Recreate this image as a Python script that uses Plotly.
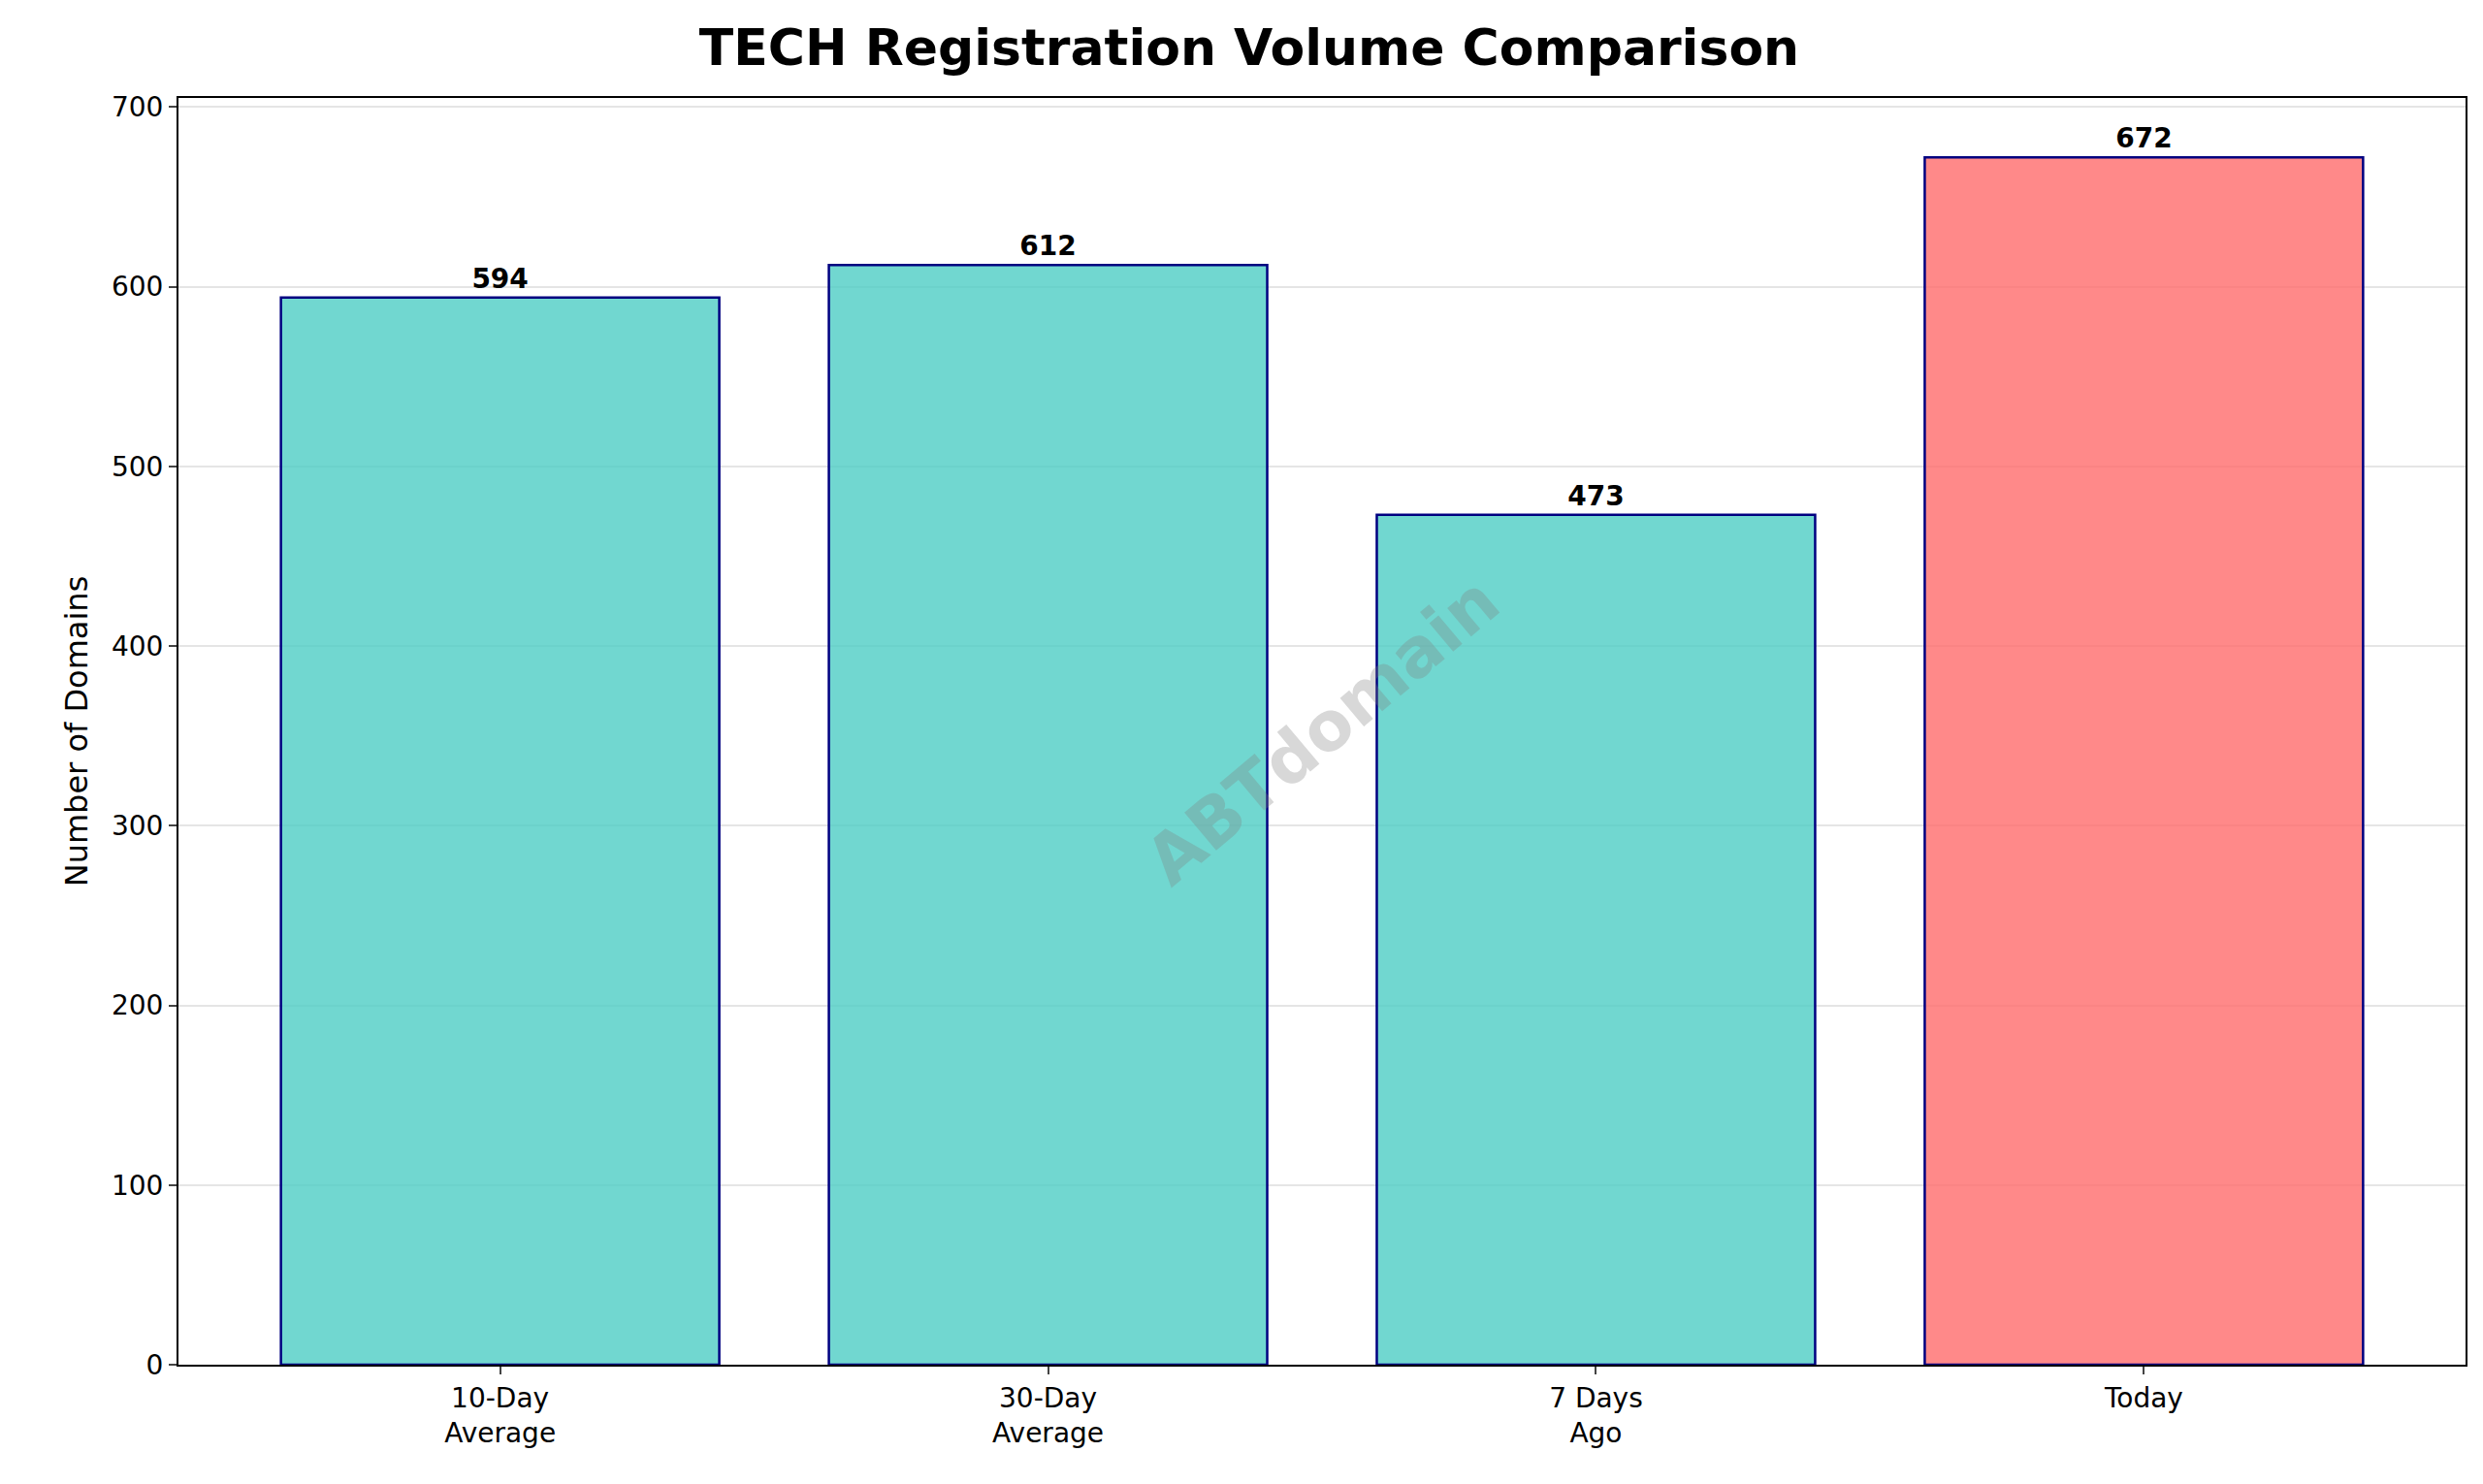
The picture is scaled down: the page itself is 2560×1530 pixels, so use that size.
import plotly.graph_objects as go

categories = ['10-Day<br>Average', '30-Day<br>Average', '7 Days<br>Ago', 'Today']
values = [594, 612, 473, 672]
bar_colors = ['rgba(78,205,196,0.8)'] * 3 + ['rgba(255,107,107,0.8)']

x_pos = list(range(len(categories)))

fig = go.Figure(go.Bar(
    x=x_pos, y=values, width=0.8,
    marker=dict(color=bar_colors, line=dict(color='navy', width=2.5)),
    text=[f'<b>{v}</b>' for v in values], textposition='outside',
    textfont=dict(size=28, color='black', family='DejaVu Sans'),
    cliponaxis=False,
))

fig.add_annotation(
    text='<b>ABTdomain</b>', x=0.5, y=0.5, xref='paper', yref='paper',
    showarrow=False, textangle=-40, opacity=0.3,
    font=dict(size=70, color='gray', family='DejaVu Sans'),
)

fig.update_layout(
    width=2560, height=1530,
    paper_bgcolor='white', plot_bgcolor='white',
    font=dict(family='DejaVu Sans', size=28, color='black'),
    title=dict(text='<b>TECH Registration Volume Comparison</b>', x=0.5, xanchor='center',
               y=0.985, yanchor='top', font=dict(size=52)),
    margin=dict(l=176, r=26, t=93, b=131),
    showlegend=False,
    bargap=0.2,
)
fig.update_xaxes(
    tickvals=x_pos, ticktext=categories, range=[-0.587, 3.587],
    showline=True, linecolor='black', linewidth=2, mirror=True,
    ticks='outside', ticklen=8, tickwidth=2, showgrid=False,
)
fig.update_yaxes(
    range=[0, 705], dtick=100, title=dict(text='Number of Domains', font=dict(size=32)),
    showline=True, linecolor='black', linewidth=2, mirror=True,
    ticks='outside', ticklen=8, tickwidth=2,
    showgrid=True, gridcolor='rgba(0,0,0,0.1)', gridwidth=1.5, zeroline=False,
)

fig.write_html('out.html')
